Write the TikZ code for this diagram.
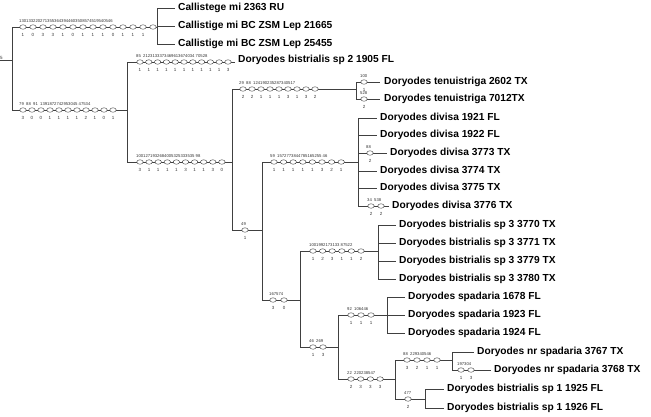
\documentclass[tikz,border=0pt]{standalone}
\usepackage{fontspec}
\setmainfont{Liberation Sans}
\usetikzlibrary{shapes.geometric}
\begin{document}
\begin{tikzpicture}[x=1pt,y=-1pt,
  ln/.style={draw=black!75,line width=0.6pt},
  cc/.style={draw=black!80,fill=white,ellipse,minimum width=6.5pt,minimum height=4.5pt,inner sep=0pt,line width=0.4pt},
  dg/.style={font=\fontsize{4.5}{5}\selectfont,inner sep=0pt,text=black!80},
  tp/.style={font=\fontsize{4.2}{5}\selectfont,inner sep=0pt,text=black!80,anchor=south west},
  lf/.style={font=\bfseries\fontsize{10.2}{11}\selectfont,anchor=west,inner sep=0pt}]
\useasboundingbox (0,0) rectangle (651,416);
\newcommand\cb[5]{\foreach \d [count=\i from 0] in {#5} {\node[cc] at ({#2+\i*#3},#1) {}; \node[dg] at ({#2+\i*#3},#1+7.5) {\d};}
  \node[tp] at (#2-4,#1-4.5) {#4};}
% root
\node[dg,anchor=west] (rl) at (0,58) {5};
\draw[ln] (0,60) -- (12,60);
\draw[ln] (12,27) -- (12,110);
% Callistege
\draw[ln] (12,27) -- (157,27); \draw[ln] (157,8) -- (157,44);
\foreach \y/\t in {8/Callistege mi 2363 RU,26/Callistige mi BC ZSM Lep 21665,44/Callistige mi BC ZSM Lep 25455}
 {\draw[ln] (157,\y) -- (175,\y); \node[lf] at (178,\y) {\t};}
\cb{27}{23}{10}{1301332202713553643944603508574519540546}{1,0,3,3,1,0,1,1,1,0,1,1,1,}
% branch 2
\draw[ln] (12,110) -- (127,110); \draw[ln] (127,62) -- (127,162);
\cb{110}{23}{9}{79\ \ 88\ \ 91\ \ 1391872742953045 47534}{3,0,0,1,1,1,1,2,1,0,1}
\draw[ln] (127,62) -- (235,62); \node[lf] at (238,60) {Doryodes bistrialis sp 2 1905 FL};
\cb{62}{140}{8.8}{85\ \ 2123133373469613674034 70528}{1,1,1,1,1,1,1,1,1,1,3}
\draw[ln] (127,162) -- (232,162); \draw[ln] (232,89) -- (232,230);
\cb{162}{140}{9.1}{1001271932684005325333535 98}{3,1,1,1,1,3,1,1,3,0}
% tenuistriga
\draw[ln] (232,89) -- (356,89); \draw[ln] (356,82) -- (356,99);
\cb{89}{243}{9}{29\ \ 88\ \ 124190235287340517}{2,2,1,1,1,3,1,3,2}
\draw[ln] (356,82) -- (380,82); \draw[ln] (356,99) -- (380,99);
\cb{82}{364}{0}{100}{1}
\cb{99}{364}{0}{528}{2}
\node[lf] at (384,82) {Doryodes tenuistriga 2602 TX};
\node[lf] at (384,99) {Doryodes tenuistriga 7012TX};
% 49
\draw[ln] (232,230) -- (262,230); \draw[ln] (262,162) -- (262,300);
\cb{230}{245}{0}{49}{1}
% divisa
\draw[ln] (262,162) -- (358,162); \draw[ln] (358,118) -- (358,206);
\cb{162}{274}{9.6}{59\ \ 1572773844785165255 46}{1,1,1,1,1,3,2,1}
\foreach \y/\t in {118/1921 FL,135/1922 FL,171/3774 TX,188/3775 TX}
 {\draw[ln] (358,\y) -- (377,\y); \node[lf] at (380,\y) {Doryodes divisa \t};}
\draw[ln] (358,153) -- (387,153); \cb{153}{370}{0}{88}{2}
\node[lf] at (390,153) {Doryodes divisa 3773 TX};
\draw[ln] (358,206) -- (389,206); \cb{206}{371}{10}{34\ \ 538}{2,2}
\node[lf] at (392,206) {Doryodes divisa 3776 TX};
% 167574
\draw[ln] (262,300) -- (300,300); \draw[ln] (300,251) -- (300,347);
\cb{300}{273}{11}{167574}{3,0}
\draw[ln] (300,251) -- (378,251); \draw[ln] (378,225) -- (378,279);
\cb{251}{313}{9.6}{1001992173133 87522}{1,2,3,1,1,2}
\foreach \y/\t in {225/3770,243/3771,261/3779,279/3780}
 {\draw[ln] (378,\y) -- (396,\y); \node[lf] at (399,\y) {Doryodes bistrialis sp 3 \t\ TX};}
\draw[ln] (300,347) -- (338,347); \draw[ln] (338,315) -- (338,379);
\cb{347}{313}{10}{46\ \ 269}{1,3}
\draw[ln] (338,315) -- (387,315); \draw[ln] (387,297) -- (387,333);
\cb{315}{351}{10}{92\ \ 106446}{1,1,1}
\foreach \y/\t in {297/1678,315/1923,333/1924}
 {\draw[ln] (387,\y) -- (405,\y); \node[lf] at (408,\y) {Doryodes spadaria \t\ FL};}
\draw[ln] (338,379) -- (395,379); \draw[ln] (395,360) -- (395,399);
\cb{379}{351}{9.7}{22\ \ 220238547}{2,3,3,3}
\draw[ln] (395,360) -- (452,360); \draw[ln] (452,352) -- (452,370);
\cb{360}{407}{10}{88\ \ 229340546}{3,2,1,1}
\draw[ln] (452,352) -- (474,352); \node[lf] at (477,352) {Doryodes nr spadaria 3767 TX};
\draw[ln] (452,370) -- (491,370); \cb{370}{461}{10}{197304}{1,3}
\node[lf] at (494,370) {Doryodes nr spadaria 3768 TX};
\draw[ln] (395,399) -- (425,399); \draw[ln] (425,389) -- (425,408);
\cb{399}{408}{0}{477}{2}
\draw[ln] (425,389) -- (444,389); \node[lf] at (447,389) {Doryodes bistrialis sp 1 1925 FL};
\draw[ln] (425,408) -- (444,408); \node[lf] at (447,408) {Doryodes bistrialis sp 1 1926 FL};
\end{tikzpicture}
\end{document}
